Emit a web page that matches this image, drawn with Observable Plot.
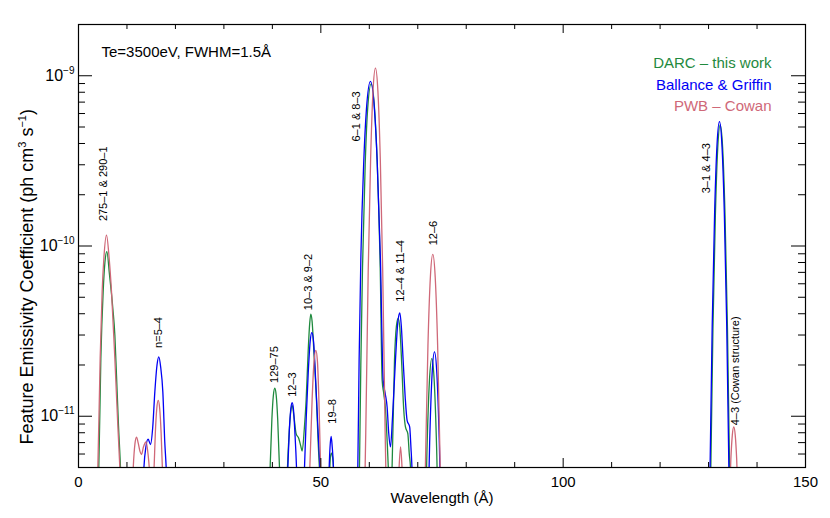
<!DOCTYPE html>
<html><head><meta charset="utf-8">
<script src="https://cdn.jsdelivr.net/npm/d3@7"></script>
<script src="https://cdn.jsdelivr.net/npm/@observablehq/plot@0.6"></script>
<style>html,body{margin:0;padding:0;background:#fff}svg{display:block}</style>
</head><body><div id="chart"></div>
<script>
// ---- Series (wavelength in Å, emissivity in ph cm^3 s^-1), one sub-array per peak group ----
const seriesNames = ["DARC – this work", "Ballance & Griffin", "PWB – Cowan"];
const seriesColors = ["#1f8a3e", "#0000f5", "#cf6878"];

const darcWave = [
  [3.95, 4.19, 4.61, 5.09, 5.45, 5.85, 6.40, 7.08, 7.50, 7.84, 8.25, 8.66, 8.85],
  [39.3, 39.54, 39.9, 40.2, 40.5, 40.8, 41.1, 41.47, 41.7],
  [42.9, 43.12, 43.5, 43.8, 44.08, 44.45, 44.9, 45.45, 45.85, 46.15, 46.6, 46.97, 47.4, 47.7, 47.93, 48.2, 48.55, 49.1, 49.45, 49.7, 49.95],
  [51.65, 51.86, 52.0, 52.2, 52.4, 52.6, 52.8],
  [57.75, 57.97, 58.25, 58.6, 59.15, 59.6, 60.38, 61.15, 61.65, 62.25, 62.65, 63.0, 63.34, 63.7, 64.0, 64.35, 64.7, 65.2, 65.6, 65.95, 66.3, 66.7, 67.1, 67.46, 67.95, 68.25, 68.5, 68.7],
  [71.5, 71.9, 72.4, 72.9, 73.4, 73.9, 74.3],
  [130.15, 130.4, 130.9, 131.4, 131.9, 132.4, 132.9, 133.4, 133.9, 134.4, 134.65]
];
const darcFlux = [
  [3.5e-12, 5e-12, 2.18e-11, 5.4e-11, 8.0e-11, 9.27e-11, 6.76e-11, 4.31e-11, 3.0e-11, 1.74e-11, 8.85e-12, 5e-12, 3.5e-12],
  [3e-12, 5e-12, 9.6e-12, 1.32e-11, 1.46e-11, 1.32e-11, 9.6e-12, 5e-12, 3e-12],
  [3e-12, 5e-12, 8.3e-12, 1.07e-11, 1.16e-11, 1.0e-11, 7.9e-12, 7.4e-12, 6.7e-12, 6.25e-12, 8.5e-12, 1.25e-11, 2.45e-11, 3.5e-11, 3.98e-11, 3.6e-11, 2.45e-11, 1.25e-11, 7e-12, 5e-12, 3.3e-12],
  [3e-12, 5e-12, 5.8e-12, 6.08e-12, 5.8e-12, 5e-12, 3e-12],
  [3e-12, 5e-12, 2.0e-11, 7.5e-11, 3.0e-10, 6.0e-10, 8.95e-10, 6.0e-10, 3.0e-10, 7.5e-11, 1.63e-11, 1.35e-11, 1.1e-11, 7e-12, 4.5e-12, 3.5e-12, 5e-12, 2.14e-11, 3.4e-11, 3.76e-11, 3.3e-11, 2.0e-11, 1.1e-11, 8.65e-12, 7.9e-12, 6e-12, 5e-12, 3e-12],
  [2e-12, 6.35e-12, 1.6e-11, 2.18e-11, 1.6e-11, 6.35e-12, 2e-12],
  [1.0e-12, 3.7e-12, 3.25e-11, 1.5e-10, 3.8e-10, 5.15e-10, 3.8e-10, 1.5e-10, 3.25e-11, 3.7e-12, 1.0e-12]
];

const bgWave = [
  [13.2, 13.5, 13.9, 14.37, 14.86, 15.3, 15.75, 16.2, 16.57, 16.95, 17.4, 17.8, 18.09, 18.3],
  [42.95, 43.19, 43.5, 43.8, 44.08, 44.35, 44.65, 44.98, 45.2],
  [46.4, 46.63, 47.0, 47.4, 47.8, 48.14, 48.5, 48.9, 49.4, 49.8, 50.05],
  [51.5, 51.72, 51.9, 52.13, 52.35, 52.6, 52.8],
  [57.4, 57.63, 57.9, 58.25, 58.87, 59.4, 60.24, 61.07, 61.62, 62.3, 62.86, 63.3, 63.68, 64.0, 64.37, 64.8, 65.4, 65.9, 66.3, 66.6, 66.98, 67.4, 67.8, 68.33, 68.6, 68.8, 69.0],
  [72.05, 72.45, 72.95, 73.45, 73.95, 74.45, 74.85],
  [130.0, 130.25, 130.75, 131.25, 131.75, 132.25, 132.75, 133.25, 133.75, 134.25, 134.5]
];
const bgFlux = [
  [3e-12, 5e-12, 6.6e-12, 7.33e-12, 6.82e-12, 8.5e-12, 1.39e-11, 2.0e-11, 2.23e-11, 1.95e-11, 1.39e-11, 7.06e-12, 5e-12, 3.5e-12],
  [3e-12, 5e-12, 8.3e-12, 1.1e-11, 1.2e-11, 1.1e-11, 8.0e-12, 5e-12, 3e-12],
  [3e-12, 5e-12, 1.0e-11, 1.8e-11, 2.75e-11, 3.1e-11, 2.75e-11, 1.7e-11, 8.5e-12, 5e-12, 3.2e-12],
  [3e-12, 5e-12, 6.6e-12, 7.62e-12, 6.6e-12, 5e-12, 3e-12],
  [3e-12, 5e-12, 2.14e-11, 8.28e-11, 3.2e-10, 6.3e-10, 9.26e-10, 6.3e-10, 3.2e-10, 8.28e-11, 1.63e-11, 1.35e-11, 1.13e-11, 8e-12, 6.6e-12, 1.0e-11, 2.14e-11, 3.6e-11, 4.05e-11, 3.4e-11, 2.14e-11, 1.3e-11, 9.46e-12, 8.65e-12, 6.5e-12, 5e-12, 3e-12],
  [2.13e-12, 6.96e-12, 1.76e-11, 2.39e-11, 1.76e-11, 6.96e-12, 2.13e-12],
  [1.05e-12, 3.9e-12, 3.39e-11, 1.57e-10, 3.96e-10, 5.38e-10, 3.96e-10, 1.57e-10, 3.39e-11, 3.9e-12, 1.05e-12]
];

const pwbWave = [
  [3.75, 3.99, 4.47, 4.88, 5.23, 5.78, 6.33, 6.81, 7.50, 8.11, 8.53, 8.75],
  [11.0, 11.3, 11.65, 11.97, 12.3, 12.7, 13.0, 13.4, 13.96, 14.4, 14.8, 15.2, 15.55, 15.85, 16.15, 16.45, 16.75, 17.05, 17.35, 17.65],
  [47.5, 47.73, 48.2, 48.6, 48.97, 49.3, 49.6, 49.95, 50.15],
  [59.0, 59.27, 59.77, 60.27, 60.77, 61.27, 61.77, 62.27, 62.77, 63.27, 63.55],
  [65.95, 66.15, 66.45, 66.75, 66.95],
  [71.3, 71.6, 72.1, 72.6, 73.1, 73.6, 74.1, 74.6, 74.9],
  [134.3, 134.6, 134.9, 135.2, 135.5, 135.8, 136.1]
];
const pwbFlux = [
  [3.5e-12, 5e-12, 2.18e-11, 5.4e-11, 8.45e-11, 1.16e-10, 8.45e-11, 5.4e-11, 2.18e-11, 8.85e-12, 5e-12, 3.5e-12],
  [2.9e-12, 5.0e-12, 6.9e-12, 7.55e-12, 7.0e-12, 6.2e-12, 5.96e-12, 6.6e-12, 7.06e-12, 5.8e-12, 4.3e-12, 3.5e-12, 4.6e-12, 7.95e-12, 1.11e-11, 1.24e-11, 1.11e-11, 7.95e-12, 4.6e-12, 2.3e-12],
  [3e-12, 5e-12, 1.25e-11, 2.1e-11, 2.44e-11, 2.1e-11, 1.25e-11, 5e-12, 3e-12],
  [3e-12, 8.0e-12, 7.0e-11, 3.23e-10, 8.17e-10, 1.11e-9, 8.17e-10, 3.23e-10, 7.0e-11, 8.0e-12, 3e-12],
  [3.5e-12, 5e-12, 6.6e-12, 5e-12, 3.5e-12],
  [1.66e-12, 5.6e-12, 2.6e-11, 6.55e-11, 8.93e-11, 6.55e-11, 2.6e-11, 5.6e-12, 1.66e-12],
  [3.2e-12, 5.6e-12, 7.75e-12, 8.65e-12, 7.75e-12, 5.6e-12, 3.2e-12]
];

// ---- Transition labels ----
const labelText = ["275–1 & 290–1", "n=5–4", "129–75", "12–3", "10–3 & 9–2", "19–8", "6–1 & 8–3", "12–4 & 11–4", "12–6", "3–1 & 4–3", "4–3 (Cowan structure)"];
const labelWave = [5.16, 16.57, 40.5, 44.2, 47.5, 52.33, 57.36, 66.43, 73.3, 129.5, 135.6];
const labelFlux = [1.40e-10, 2.52e-11, 1.57e-11, 1.30e-11, 4.2e-11, 9.05e-12, 4.11e-10, 4.71e-11, 1.01e-10, 2.04e-10, 8.85e-12];

// ---- Axes ----
const xMajor = [0, 50, 100, 150];
const xMinor = [10, 20, 30, 40, 60, 70, 80, 90, 110, 120, 130, 140];
const yMajor = [1e-9, 1e-10, 1e-11];
const yMinor = [6e-12, 7e-12, 8e-12, 9e-12,
  2e-11, 3e-11, 4e-11, 5e-11, 6e-11, 7e-11, 8e-11, 9e-11,
  2e-10, 3e-10, 4e-10, 5e-10, 6e-10, 7e-10, 8e-10, 9e-10];
const annotation = "Te=3500eV, FWHM=1.5Å";
const xTitle = "Wavelength (Å)";
const yTitle = "Feature Emissivity Coefficient (ph cm^{3} s^{−1})";

// ---- Build table ----
const rows = [];
[[darcWave, darcFlux], [bgWave, bgFlux], [pwbWave, pwbFlux]].forEach(([Wv, F], s) => {
  Wv.forEach((seg, j) => seg.forEach((w, i) => rows.push({series: seriesNames[s], seg: s * 100 + j, w, f: F[j][i]})));
});
const labels = labelText.map((t, i) => ({t, w: labelWave[i], f: labelFlux[i]}));

const W = 830, H = 518, mL = 78, mR = 25, mT = 24, mB = 51;
const iW = W - mL - mR, iH = H - mT - mB;
const tick = "#000";
const legendOffsets = [33, 54.5, 76];

const svg = Plot.plot({
  width: W, height: H,
  marginLeft: mL, marginRight: mR, marginTop: mT, marginBottom: mB,
  style: {fontFamily: "'Liberation Sans', Arial, Helvetica, sans-serif", fontSize: "15px", background: "#fff", color: "#000"},
  x: {domain: [0, 150], axis: null},
  y: {type: "log", domain: [5e-12, 2e-9], axis: null},
  color: {domain: seriesNames, range: seriesColors},
  marks: [
    // series
    ...seriesNames.map(n => Plot.line(rows.filter(r => r.series === n), {
      x: "w", y: "f", z: "seg", stroke: "series", strokeWidth: 1.3, curve: "monotone-x", clip: true
    })),
    // frame & inward ticks
    Plot.frame({stroke: "#000", strokeWidth: 1.2}),
    Plot.ruleX(xMajor, {x: d => d, insetTop: iH - 9, stroke: tick}),
    Plot.ruleX(xMinor, {x: d => d, insetTop: iH - 5, stroke: tick}),
    Plot.ruleX(xMajor, {x: d => d, insetBottom: iH - 9, stroke: tick}),
    Plot.ruleX(xMinor, {x: d => d, insetBottom: iH - 5, stroke: tick}),
    Plot.ruleY(yMajor, {y: d => d, insetRight: iW - 14, stroke: tick}),
    Plot.ruleY(yMinor, {y: d => d, insetRight: iW - 7, stroke: tick}),
    Plot.ruleY(yMajor, {y: d => d, insetLeft: iW - 14, stroke: tick}),
    Plot.ruleY(yMinor, {y: d => d, insetLeft: iW - 7, stroke: tick}),
    // tick labels
    Plot.text(xMajor, {x: d => d, frameAnchor: "bottom", dy: 19, text: d => String(d), fontSize: 15, fill: "#000"}),
    Plot.text(yMajor, {y: d => d, frameAnchor: "left", dx: -4, textAnchor: "end", text: d => `10^{−${Math.round(-Math.log10(d))}}`, fontSize: 16, fill: "#000"}),
    // axis titles
    Plot.text([xTitle], {frameAnchor: "bottom", dy: 35, text: d => d, fontSize: 15, fill: "#000"}),
    Plot.text([yTitle], {frameAnchor: "bottom-left", textAnchor: "start", lineAnchor: "middle", dx: -51, dy: -23, rotate: -90, text: d => d, fontSize: 18, fill: "#000"}),
    // annotation and legend
    Plot.text([annotation], {frameAnchor: "top-left", dx: 23, dy: 21.7, textAnchor: "start", text: d => d, fontSize: 15, fill: "#000"}),
    ...seriesNames.map((n, i) => Plot.text([n], {frameAnchor: "top-right", dx: -34, dy: legendOffsets[i], textAnchor: "end", text: d => d, fill: seriesColors[i], fontSize: 15})),
    // peak labels
    Plot.text(labels, {x: "w", y: "f", text: "t", rotate: -90, textAnchor: "start", fontSize: 11, fill: "#000"})
  ]
});
document.getElementById("chart").appendChild(svg);

// superscripts
function superscript(t, supSize, rise) {
  const s = t.textContent;
  const parts = s.split(/(\^\{[^}]*\})/);
  t.textContent = "";
  let raised = false;
  for (const p of parts) {
    if (!p) continue;
    const ts = document.createElementNS("http://www.w3.org/2000/svg", "tspan");
    if (p.startsWith("^{")) {
      ts.textContent = p.slice(2, -1);
      ts.setAttribute("font-size", supSize);
      ts.setAttribute("dy", -rise);
      raised = true;
    } else {
      ts.textContent = p;
      if (raised) { ts.setAttribute("dy", rise); raised = false; }
    }
    t.appendChild(ts);
  }
}
svg.querySelectorAll("text").forEach(t => {
  if (t.textContent.includes("^{")) {
    if (t.textContent.startsWith("10")) superscript(t, 10, 7);
    else superscript(t, 11, 7);
  }
});
</script>
</body></html>
